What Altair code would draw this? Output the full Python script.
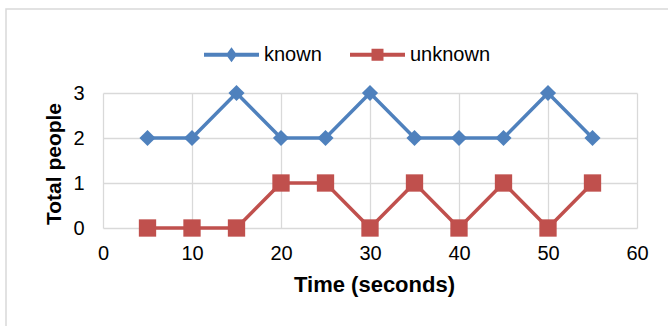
import altair as alt
import pandas as pd

# Sample times (seconds) and head counts per series
times = [5, 10, 15, 20, 25, 30, 35, 40, 45, 50, 55]
known = [2, 2, 3, 2, 2, 3, 2, 2, 2, 3, 2]
unknown = [0, 0, 0, 1, 1, 0, 1, 0, 1, 0, 1]

series_names = ["known", "unknown"]
series_colors = ["#4F81BD", "#C0504D"]
x_ticks = [0, 10, 20, 30, 40, 50, 60]
y_ticks = [0, 1, 2, 3]

rows = []
for name, vals in zip(series_names, [known, unknown]):
    for t, v in zip(times, vals):
        rows.append({"time": t, "people": v, "series": name})
df = pd.DataFrame(rows)

FONT = "Liberation Sans"
W, H = 534, 135
PAD_L, PAD_T = 103, 93

x_enc = alt.X(
    "time:Q",
    scale=alt.Scale(domain=[0, 60], nice=False),
    axis=alt.Axis(values=x_ticks, title="Time (seconds)", labelPadding=15,
                  titlePadding=11, labelFlush=False, titleFontSize=22,
                  titleX=W / 2 + 4),
)
y_enc = alt.Y(
    "people:Q",
    scale=alt.Scale(domain=[0, 3], nice=False),
    axis=alt.Axis(values=y_ticks, title="Total people", labelPadding=19,
                  titlePadding=8, labelFlush=False, titleFontSize=21,
                  titleY=H / 2 + 3),
)

color_scale = alt.Scale(domain=series_names, range=series_colors)

# Outer chart frame
frame = alt.Chart(pd.DataFrame({"k": [0]})).mark_rect(
    fill=None, stroke="#D9D9D9", strokeWidth=1.5
).encode(
    x=alt.value(6 - PAD_L), x2=alt.value(668 - PAD_L + 10),
    y=alt.value(9 - PAD_T), y2=alt.value(326 - PAD_T + 10),
)

lines = alt.Chart(df).mark_line(strokeWidth=3.5).encode(
    x=x_enc, y=y_enc,
    color=alt.Color("series:N", scale=color_scale, legend=None),
    detail="series:N",
)

points = alt.Chart(df).mark_point(filled=True, opacity=1).encode(
    x=x_enc, y=y_enc,
    color=alt.Color("series:N", scale=color_scale, legend=None),
    shape=alt.Shape("series:N",
                    scale=alt.Scale(domain=series_names, range=["diamond", "square"]),
                    legend=None),
    size=alt.Size("series:N",
                  scale=alt.Scale(domain=series_names, range=[260, 300]),
                  legend=None),
)

# Legend symbols: a line with the series marker on it
legend_paths = [
    "M-1,0H1M0,-0.15L0.11,0L0,0.15L-0.11,0ZM0,-0.15V0.15",
    "M-1,0H1M-0.145,-0.145H0.145V0.145H-0.145ZM-0.07,-0.145V0.145M0.07,-0.145V0.145",
]
legend_layer = alt.Chart(df).transform_filter("false").mark_point(
    filled=False, strokeWidth=4, opacity=1
).encode(
    x=x_enc, y=y_enc,
    color=alt.Color("series:N", scale=color_scale,
                    legend=alt.Legend(title=None)),
    shape=alt.Shape("series:N",
                    scale=alt.Scale(domain=series_names, range=legend_paths),
                    legend=alt.Legend(title=None)),
)

chart = alt.layer(frame, lines, points, legend_layer).resolve_scale(
    color="independent", shape="independent", size="independent"
).properties(
    width=W, height=H,
    autosize=alt.AutoSizeParams(type="none"),
    padding={"left": PAD_L, "top": PAD_T, "right": 668 - PAD_L - W,
             "bottom": 326 - PAD_T - H},
    background="white",
).configure_view(stroke=None).configure_axis(
    grid=True, gridColor="#D9D9D9", gridWidth=1.3,
    domain=False, ticks=False,
    labelFont=FONT, labelFontSize=20, labelColor="#000000",
    titleFont=FONT, titleFontSize=20, titleFontWeight="bold", titleColor="#000000",
).configure_legend(
    orient="none", legendX=99, legendY=-68, direction="horizontal",
    symbolSize=3025, symbolStrokeWidth=4, symbolOpacity=1,
    labelFont=FONT, labelFontSize=20,
    labelColor="#000000", labelOffset=3, columnPadding=20, padding=0,
)

chart.save("out.html", embed_options={"renderer": "svg", "actions": False})
